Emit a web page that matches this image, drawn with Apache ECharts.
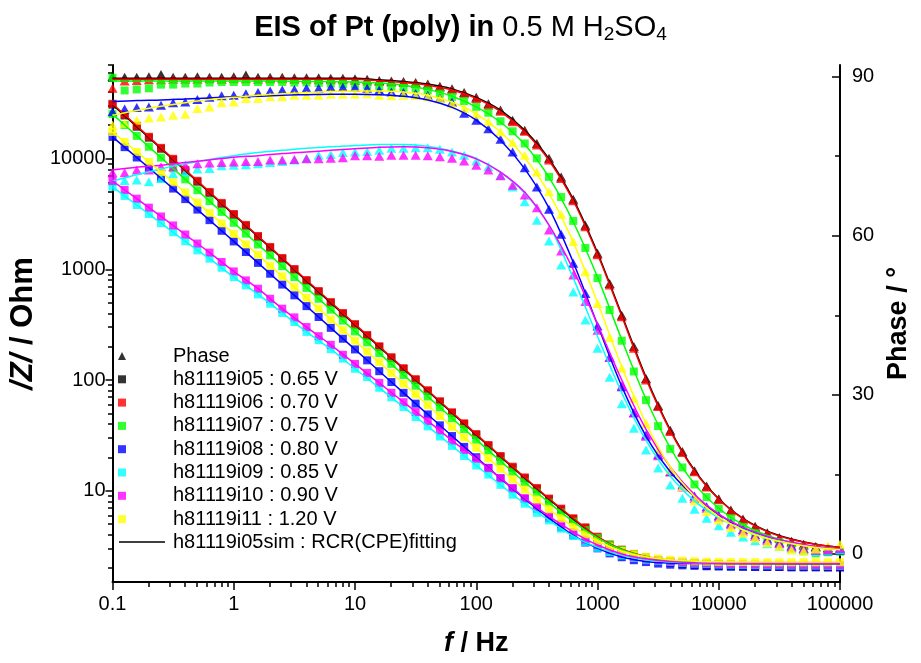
<!DOCTYPE html>
<html>
<head>
<meta charset="utf-8">
<script src="https://cdn.jsdelivr.net/npm/echarts@6/dist/echarts.min.js"></script>
<style>
  html, body { margin: 0; padding: 0; background: #ffffff; }
  #chart { width: 921px; height: 663px; }
</style>
</head>
<body>
<div id="chart"></div>
<script>
// Measured frequencies (Hz), 10 points per decade
const freq = [0.1, 0.1259, 0.1585, 0.1995, 0.2512, 0.3162, 0.3981, 0.5012, 0.631, 0.7943,
  1, 1.259, 1.585, 1.995, 2.512, 3.162, 3.981, 5.012, 6.31, 7.943,
  10, 12.59, 15.85, 19.95, 25.12, 31.62, 39.81, 50.12, 63.1, 79.43,
  100, 125.9, 158.5, 199.5, 251.2, 316.2, 398.1, 501.2, 631, 794.3,
  1000, 1259, 1585, 1995, 2512, 3162, 3981, 5012, 6310, 7943,
  10000, 12589, 15849, 19953, 25119, 31623, 39811, 50119, 63096, 79433, 100000];

// Frequencies of the simulated (fitted) spectra
const fitFreq = [0.1, 0.1585, 0.2512, 0.3981, 0.631, 1, 1.585, 2.512, 3.981, 6.31,
  10, 15.85, 25.12, 39.81, 63.1, 100, 158.5, 251.2, 398.1, 631,
  1000, 1585, 2512, 3981, 6310, 10000, 15849, 25119, 39811, 63096, 100000];

// |Z| in Ohm
const zI05 = [30700, 24500, 19400, 15450, 12280, 9770, 7770, 6190, 4910, 3910,
  3110, 2475, 1966, 1565, 1244, 990, 787, 626, 498, 396,
  315, 251, 199, 158, 126, 100, 79.6, 63.4, 50.4, 40.1,
  32.0, 25.5, 20.3, 16.2, 13.0, 10.4, 8.38, 6.79, 5.55, 4.6,
  3.78, 3.2, 2.88, 2.63, 2.46, 2.33, 2.23, 2.17, 2.13, 2.1,
  2.09, 2.08, 2.07, 2.06, 2.05, 2.05, 2.04, 2.04, 2.04, 2.03, 2.03];
const zI06 = [31260, 24890, 19770, 15740, 12500, 9950, 7910, 6300, 5000, 3980,
  3160, 2518, 2000, 1592, 1265, 1007, 800, 637, 506, 403,
  320, 255, 202, 161, 128, 102, 80.9, 64.4, 51.2, 40.7,
  32.5, 25.9, 20.6, 16.5, 13.2, 10.6, 8.51, 6.9, 5.65, 4.68,
  3.85, 3.27, 2.94, 2.69, 2.51, 2.38, 2.28, 2.22, 2.18, 2.15,
  2.14, 2.13, 2.12, 2.11, 2.1, 2.1, 2.09, 2.09, 2.08, 2.08, 2.08];
const zI07 = [25200, 20090, 16030, 12790, 10210, 8150, 6490, 5180, 4130, 3300,
  2630, 2100, 1675, 1337, 1067, 851, 679, 542, 432, 344,
  275, 219, 175, 140, 111, 88.9, 71.0, 56.6, 45.2, 36.1,
  28.95, 23.1, 18.5, 14.86, 11.95, 9.63, 7.81, 6.38, 5.26, 4.41,
  3.75, 3.27, 2.92, 2.66, 2.49, 2.37, 2.29, 2.23, 2.2, 2.17,
  2.16, 2.15, 2.14, 2.13, 2.13, 2.12, 2.12, 2.12, 2.12, 2.11, 2.11];
const zI08 = [15700, 12680, 10230, 8260, 6650, 5360, 4306, 3459, 2780, 2228,
  1786, 1432, 1143, 912, 728, 582, 465, 371, 296, 236,
  189, 150.7, 120.2, 95.9, 76.6, 61.2, 48.9, 39.0, 31.2, 24.9,
  20.09, 16.1, 12.94, 10.42, 8.43, 6.88, 5.65, 4.69, 3.96, 3.41,
  3.02, 2.72, 2.51, 2.36, 2.27, 2.2, 2.15, 2.12, 2.1, 2.08,
  2.07, 2.06, 2.06, 2.05, 2.05, 2.05, 2.04, 2.04, 2.04, 2.04, 2.04];
const zI09 = [5560, 4600, 3810, 3155, 2612, 2163, 1791, 1483, 1247, 1033,
  851, 716, 593, 489, 403, 334, 272, 229, 190, 156,
  126.5, 106.4, 85.1, 69.7, 57.0, 46.3, 38.1, 30.9, 25.4, 20.6,
  16.9, 14.0, 11.3, 9.2, 7.64, 6.32, 5.4, 4.54, 3.9, 3.44,
  3.05, 2.79, 2.61, 2.47, 2.38, 2.32, 2.27, 2.23, 2.2, 2.18,
  2.16, 2.15, 2.14, 2.13, 2.12, 2.12, 2.11, 2.11, 2.11, 2.1, 2.1];
const zI10 = [6280, 5220, 4345, 3606, 3000, 2489, 2061, 1710, 1416, 1164,
  957, 794, 668, 542, 441, 368, 301, 249, 208, 169,
  140, 116, 94.4, 76.7, 63.1, 51.4, 42.7, 35.1, 28.4, 23.4,
  19.5, 16.0, 13.0, 10.6, 8.59, 7.13, 5.89, 5.01, 4.24, 3.63,
  3.24, 2.93, 2.69, 2.52, 2.43, 2.36, 2.3, 2.26, 2.23, 2.21,
  2.19, 2.18, 2.17, 2.16, 2.15, 2.15, 2.14, 2.14, 2.14, 2.13, 2.13];
const zI11 = [17380, 14130, 11480, 9310, 7550, 6110, 4940, 4000, 3230, 2600,
  2089, 1679, 1349, 1079, 863, 690, 552, 442, 353, 282.5,
  226, 180.7, 144.5, 115.6, 92.5, 74.0, 59.2, 47.3, 37.8, 30.3,
  24.4, 19.6, 15.76, 12.7, 10.27, 8.35, 6.83, 5.65, 4.74, 4.04,
  3.51, 3.13, 2.86, 2.67, 2.53, 2.44, 2.38, 2.34, 2.31, 2.29,
  2.28, 2.27, 2.27, 2.27, 2.26, 2.26, 2.26, 2.26, 2.26, 2.26, 2.26];

// Phase in degrees
const phI05 = [90.1, 89.9, 89.9, 90.0, 90.4, 89.9, 89.9, 90.0, 89.9, 89.9,
  90.0, 90.3, 89.9, 89.9, 89.9, 89.8, 89.8, 89.8, 89.7, 89.7,
  89.6, 89.5, 89.3, 89.2, 89.1, 88.9, 88.6, 88.2, 87.7, 87.0,
  86.1, 84.9, 83.7, 81.8, 79.9, 77.4, 74.6, 71.1, 66.9, 62.0,
  56.7, 51.0, 45.0, 39.1, 33.1, 28.0, 23.3, 19.3, 15.7, 12.8,
  10.4, 8.3, 6.6, 5.2, 4.0, 3.1, 2.4, 1.8, 1.4, 1.2, 1.1];
const phI06 = [87.8, 89.2, 89.3, 89.4, 89.4, 89.5, 89.5, 89.5, 89.6, 89.5,
  89.6, 89.6, 89.5, 89.6, 89.6, 89.5, 89.5, 89.4, 89.4, 89.4,
  89.3, 89.2, 89.1, 89.0, 88.9, 88.7, 88.4, 88.0, 87.5, 86.8,
  85.9, 84.6, 83.5, 81.5, 79.7, 77.1, 74.3, 70.8, 66.6, 61.7,
  56.4, 50.7, 44.7, 38.8, 32.8, 27.8, 23.1, 19.1, 15.5, 12.6,
  10.2, 8.1, 6.4, 5.0, 3.8, 2.9, 2.2, 1.6, 1.2, 1.0, 0.8];
const phI07 = [89.8, 87.4, 87.6, 87.8, 88.5, 88.5, 88.7, 88.7, 88.9, 89.0,
  89.0, 89.0, 89.0, 89.0, 89.0, 88.9, 88.9, 88.8, 88.7, 88.6,
  88.5, 88.4, 88.2, 88.1, 87.9, 87.8, 87.4, 86.8, 86.2, 85.4,
  84.3, 83.2, 81.6, 79.7, 77.4, 74.6, 71.1, 67.3, 62.8, 57.7,
  52.0, 46.0, 40.2, 34.4, 29.0, 24.1, 19.8, 16.3, 13.1, 10.7,
  8.5, 6.7, 5.1, 3.9, 2.8, 2.2, 1.1, 0.5, 0.1, 0.3, 0.4];
const phI08 = [83.4, 83.9, 84.2, 84.3, 84.6, 85.1, 85.2, 85.7, 86.1, 86.4,
  86.5, 86.8, 87.0, 87.3, 87.5, 87.6, 87.8, 87.8, 88.0, 88.0,
  88.0, 87.8, 87.5, 87.1, 87.0, 86.8, 86.5, 86.0, 85.2, 83.1,
  81.8, 80.2, 78.2, 75.8, 72.8, 69.2, 65.0, 60.3, 54.8, 49.1,
  43.0, 37.1, 31.5, 26.6, 22.4, 18.7, 15.5, 13.0, 10.9, 8.9,
  7.2, 5.8, 4.6, 3.6, 2.8, 2.1, 1.5, 1.0, 0.7, 0.6, 0.7];
const phI09 = [70.3, 70.4, 70.5, 70.2, 70.8, 71.7, 72.0, 72.6, 72.7, 73.2,
  73.3, 73.4, 73.6, 73.8, 74.0, 74.3, 74.6, 75.2, 75.3, 75.7,
  75.8, 75.9, 76.1, 76.5, 76.5, 76.6, 76.6, 76.3, 75.8, 75.2,
  74.1, 73.0, 71.4, 69.2, 66.4, 62.9, 59.0, 54.5, 49.4, 44.1,
  38.8, 33.3, 28.3, 23.7, 19.6, 16.2, 13.0, 10.5, 8.4, 6.7,
  5.3, 4.1, 3.2, 2.5, 1.9, 1.4, 1.0, 0.7, 0.5, 0.6, 0.8];
const phI10 = [71.9, 71.9, 72.4, 72.4, 73.0, 73.0, 73.3, 73.6, 73.7, 73.8,
  73.9, 74.0, 74.0, 74.3, 74.3, 74.4, 74.5, 74.5, 74.6, 74.7,
  75.1, 75.1, 75.0, 75.2, 75.2, 75.2, 75.1, 74.9, 74.6, 74.1,
  73.3, 72.4, 71.3, 69.5, 67.7, 65.3, 61.1, 57.1, 52.6, 47.6,
  42.2, 37.1, 31.7, 26.6, 22.2, 18.5, 15.5, 12.6, 10.5, 8.6,
  6.9, 5.5, 4.3, 3.3, 2.5, 1.9, 1.3, 0.9, 0.7, 0.8, 1.0];
const phI11 = [80.9, 81.2, 81.8, 82.2, 82.4, 82.7, 82.9, 84.0, 84.3, 85.1,
  85.2, 85.9, 85.9, 86.2, 86.2, 86.5, 86.5, 86.5, 86.7, 86.7,
  86.7, 86.8, 86.5, 86.4, 86.5, 86.4, 86.2, 85.9, 84.8, 84.0,
  82.9, 81.5, 79.6, 77.6, 75.2, 72.0, 68.3, 64.0, 58.9, 53.2,
  47.2, 40.8, 35.0, 29.3, 24.6, 19.6, 15.8, 12.7, 10.0, 8.0,
  6.4, 5.0, 3.9, 3.0, 2.1, 1.4, 0.75, 0.5, 0.9, 1.5, 1.8];

// Simulated |Z| (RCR with CPE), Ohm
const zFitI05 = [30700, 19400, 12280, 7770, 4910, 3110, 1966, 1244, 787, 498,
  315, 199, 126, 79.6, 50.4, 32.0, 20.3, 13.0, 8.38, 5.55,
  3.8, 2.93, 2.53, 2.35, 2.26, 2.22, 2.2, 2.2, 2.19, 2.19, 2.19];
const zFitI06 = [31260, 19770, 12500, 7910, 5000, 3160, 2000, 1265, 800, 506,
  320, 202, 128, 80.9, 51.2, 32.5, 20.6, 13.2, 8.51, 5.65,
  3.85, 2.96, 2.55, 2.36, 2.27, 2.23, 2.21, 2.2, 2.2, 2.2, 2.2];
const zFitI07 = [25200, 16030, 10210, 6490, 4130, 2630, 1675, 1067, 679, 432,
  275, 175, 111, 71.0, 45.2, 28.95, 18.5, 11.95, 7.81, 5.26,
  3.75, 2.93, 2.52, 2.33, 2.25, 2.22, 2.21, 2.2, 2.2, 2.2, 2.2];
const zFitI08 = [15700, 10230, 6650, 4306, 2780, 1786, 1143, 728, 465, 296,
  189, 120.2, 76.6, 48.9, 31.2, 20.09, 12.94, 8.43, 5.65, 3.96,
  3.02, 2.52, 2.3, 2.22, 2.2, 2.2, 2.2, 2.2, 2.2, 2.2, 2.2];
const zFitI09 = [5560, 3810, 2612, 1791, 1247, 851, 593, 403, 272, 190,
  126.5, 85.1, 57.0, 38.1, 25.4, 16.9, 11.3, 7.64, 5.4, 3.9,
  3.08, 2.62, 2.38, 2.27, 2.23, 2.21, 2.2, 2.2, 2.2, 2.2, 2.2];
const zFitI10 = [6280, 4345, 3000, 2061, 1416, 957, 668, 441, 301, 208,
  140, 94.4, 63.1, 42.7, 28.4, 19.5, 13.0, 8.59, 5.89, 4.24,
  3.24, 2.69, 2.43, 2.3, 2.24, 2.21, 2.2, 2.2, 2.2, 2.2, 2.2];
const zFitI11 = [17380, 11480, 7550, 4940, 3230, 2089, 1349, 863, 552, 353,
  226, 144.5, 92.5, 59.2, 37.8, 24.4, 15.76, 10.27, 6.83, 4.74,
  3.51, 2.86, 2.53, 2.38, 2.31, 2.28, 2.27, 2.27, 2.27, 2.27, 2.27];

// Simulated phase, degrees
const phFitI05 = [89.7, 89.7, 89.7, 89.7, 89.7, 89.7, 89.7, 89.7, 89.7, 89.7,
  89.7, 89.4, 89.1, 88.6, 87.7, 86.1, 83.7, 79.9, 74.5, 66.9,
  56.8, 45.1, 33.3, 23.4, 15.8, 10.4, 6.7, 4.3, 2.8, 1.8, 1.2];
const phFitI06 = [89.5, 89.5, 89.5, 89.5, 89.5, 89.5, 89.5, 89.5, 89.5, 89.5,
  89.5, 89.2, 88.9, 88.4, 87.5, 85.9, 83.4, 79.6, 74.2, 66.6,
  56.5, 44.8, 33.0, 23.2, 15.6, 10.3, 6.6, 4.2, 2.7, 1.8, 1.2];
const phFitI07 = [89.2, 89.2, 89.2, 89.2, 89.2, 89.2, 89.2, 89.2, 89.1, 89.1,
  89.0, 88.8, 88.4, 87.6, 86.3, 84.3, 81.4, 77.2, 71.0, 62.6,
  52.2, 40.4, 29.2, 20.0, 13.2, 8.6, 5.5, 3.5, 2.2, 1.4, 0.9];
const phFitI08 = [85.3, 85.5, 85.6, 85.8, 86.0, 86.2, 86.3, 86.5, 86.6, 86.7,
  86.7, 86.6, 86.3, 85.6, 84.2, 81.8, 78.0, 72.6, 65.2, 55.0,
  43.2, 31.6, 22.2, 15.5, 10.8, 7.4, 4.9, 3.2, 2.1, 1.3, 0.9];
const phFitI09 = [70.3, 71.5, 72.6, 73.6, 74.4, 75.1, 75.7, 76.1, 76.5, 76.8,
  77.0, 77.2, 77.2, 76.9, 76.0, 74.6, 72.0, 68.0, 62.0, 52.0,
  41.0, 30.4, 21.4, 14.7, 10.0, 6.8, 4.6, 3.0, 2.0, 1.3, 0.9];
const phFitI10 = [72.4, 72.9, 73.3, 73.8, 74.3, 74.8, 75.1, 75.5, 75.8, 76.1,
  76.4, 76.7, 76.8, 76.6, 75.9, 74.5, 72.0, 68.2, 62.0, 53.6,
  43.3, 32.8, 23.5, 16.4, 11.2, 7.5, 5.0, 3.3, 2.2, 1.4, 0.9];
const phFitI11 = [82.7, 83.6, 84.4, 85.1, 85.7, 86.1, 86.5, 86.8, 87.0, 87.2,
  87.3, 87.3, 87.1, 86.5, 85.2, 83.0, 79.6, 74.7, 68.0, 58.8,
  47.4, 35.3, 24.6, 16.4, 10.8, 7.0, 4.5, 2.9, 1.9, 1.2, 0.8];

// Run labels and colours
const runNames = ['h81119i05 : 0.65 V', 'h81119i06 : 0.70 V', 'h81119i07 : 0.75 V',
  'h81119i08 : 0.80 V', 'h81119i09 : 0.85 V', 'h81119i10 : 0.90 V', 'h81119i11 : 1.20 V'];
const runColors = ['#000000', '#ff0000', '#00ff00', '#0000ff', '#00ffff', '#ff00ff', '#ffff00'];
const phaseLabel = 'Phase';
const fitLabel = 'h81119i05sim : RCR(CPE)fitting';

// Axis ticks
const xMajor = [0.1, 1, 10, 100, 1000, 10000, 100000];
const xMinor = [0.2, 0.3, 0.4, 0.5, 0.6, 0.7, 0.8, 0.9, 2, 3, 4, 5, 6, 7, 8, 9,
  20, 30, 40, 50, 60, 70, 80, 90, 200, 300, 400, 500, 600, 700, 800, 900,
  2000, 3000, 4000, 5000, 6000, 7000, 8000, 9000, 20000, 30000, 40000, 50000, 60000, 70000, 80000, 90000];
const zMajor = [10, 100, 1000, 10000];
const zMinor = [2, 3, 4, 5, 6, 7, 8, 9, 20, 30, 40, 50, 60, 70, 80, 90,
  200, 300, 400, 500, 600, 700, 800, 900, 2000, 3000, 4000, 5000, 6000, 7000, 8000, 9000,
  20000, 30000, 40000, 50000, 60000, 70000];
const phMajor = [0, 30, 60, 90];
const phMinor = [15, 45, 75];

const FONT = '"Liberation Sans", Arial, Helvetica, sans-serif';

const zData = [zI05, zI06, zI07, zI08, zI09, zI10, zI11];
const phData = [phI05, phI06, phI07, phI08, phI09, phI10, phI11];
const zFits = [zFitI05, zFitI06, zFitI07, zFitI08, zFitI09, zFitI10, zFitI11];
const phFits = [phFitI05, phFitI06, phFitI07, phFitI08, phFitI09, phFitI10, phFitI11];
const phSymbols = ['triangle', 'triangle', 'rect', 'triangle', 'triangle', 'triangle', 'triangle'];

const pair = (xs, ys) => xs.map((x, i) => [x, ys[i]]);

const series = [];
// measured points: |Z| squares on the left axis, phase markers on the right axis
runNames.forEach((name, k) => {
  series.push({
    name: name, type: 'scatter', xAxisIndex: 0, yAxisIndex: 0,
    symbol: 'rect', symbolSize: 8, z: 2,
    itemStyle: { color: runColors[k] },
    data: pair(freq, zData[k])
  });
  series.push({
    name: k === 0 ? phaseLabel : name, type: 'scatter', xAxisIndex: 0, yAxisIndex: 1,
    symbol: phSymbols[k], symbolSize: phSymbols[k] === 'rect' ? 8 : [10, 9], z: 2,
    itemStyle: { color: runColors[k] },
    data: pair(freq, phData[k])
  });
});
// simulated spectra drawn on top
runNames.forEach((name, k) => {
  const fitName = k === 0 ? fitLabel : name.split(' ')[0] + 'sim';
  const common = {
    name: fitName, type: 'line', xAxisIndex: 0, symbol: 'none', showSymbol: false,
    smooth: 0.3, z: 3,
    lineStyle: { color: runColors[k], width: 1.5 }, itemStyle: { color: runColors[k] }
  };
  series.push(Object.assign({}, common, { yAxisIndex: 0, data: pair(fitFreq, zFits[k]) }));
  series.push(Object.assign({}, common, { yAxisIndex: 1, data: pair(fitFreq, phFits[k]) }));
});

const numFmt = v => String(Number(Number(v).toPrecision(6)));
const gridBox = { left: 112, right: 81, top: 65, bottom: 81 };
const axisCol = '#000000';

const option = {
  animation: false,
  backgroundColor: '#ffffff',
  title: {
    left: 'center', top: 7,
    text: '{b|EIS of Pt (poly) in }{n|0.5 M H}{s|2}{n|SO}{s|4}',
    textStyle: {
      rich: {
        b: { fontFamily: FONT, fontWeight: 'bold', fontSize: 29, color: '#000' },
        n: { fontFamily: FONT, fontWeight: 'normal', fontSize: 29, color: '#000' },
        s: { fontFamily: FONT, fontWeight: 'normal', fontSize: 19, color: '#000', padding: [13, 0, 0, 0] }
      }
    }
  },
  grid: [Object.assign({}, gridBox), Object.assign({}, gridBox)],
  legend: [
    {
      orient: 'vertical', left: 118, top: 346, padding: 0,
      itemWidth: 8, itemHeight: 8, itemGap: 3.3,
      selectedMode: false,
      data: [{ name: phaseLabel, icon: 'triangle' }].concat(runNames.map(n => ({ name: n, icon: 'rect' }))),
      formatter: n => '{g| }' + n,
      textStyle: {
        fontFamily: FONT, fontSize: 20, lineHeight: 20, color: '#000',
        rich: { g: { width: 42 } }
      }
    },
    {
      orient: 'vertical', left: 119, top: 532, padding: 0,
      itemWidth: 46, itemHeight: 1.5,
      selectedMode: false,
      data: [{ name: fitLabel, icon: 'rect' }],
      formatter: n => '{g| }' + n,
      textStyle: {
        fontFamily: FONT, fontSize: 20, lineHeight: 20, color: '#000',
        rich: { g: { width: 3 } }
      }
    }
  ],
  xAxis: [
    {
      type: 'log', logBase: 10, gridIndex: 0, position: 'bottom', min: 0.1, max: 100000,
      axisLine: { show: true, onZero: false, lineStyle: { color: axisCol, width: 2 } },
      axisTick: { show: true, inside: false, length: 8, customValues: xMajor, lineStyle: { color: axisCol, width: 1.5 } },
      axisLabel: { show: true, customValues: xMajor, formatter: numFmt, margin: 12, color: '#000', fontFamily: FONT, fontSize: 20 },
      splitLine: { show: false },
      name: '{i|f}{b| / Hz}', nameLocation: 'middle', nameGap: 48,
      nameTextStyle: {
        rich: {
          i: { fontFamily: FONT, fontWeight: 'bold', fontStyle: 'italic', fontSize: 27, color: '#000' },
          b: { fontFamily: FONT, fontWeight: 'bold', fontSize: 27, color: '#000' }
        }
      }
    },
    {
      type: 'log', logBase: 10, gridIndex: 1, position: 'bottom', min: 0.1, max: 100000,
      axisLine: { show: false, onZero: false },
      axisTick: { show: true, inside: false, length: 5, customValues: xMinor, lineStyle: { color: axisCol, width: 1.5 } },
      axisLabel: { show: false },
      splitLine: { show: false }
    }
  ],
  yAxis: [
    {
      type: 'log', logBase: 10, gridIndex: 0, position: 'left', min: 1.5, max: 70000,
      axisLine: { show: true, onZero: false, lineStyle: { color: axisCol, width: 2 } },
      axisTick: { show: true, inside: false, length: 7, customValues: zMajor, lineStyle: { color: axisCol, width: 1.5 } },
      axisLabel: { show: true, customValues: zMajor, formatter: numFmt, margin: 7, color: '#000', fontFamily: FONT, fontSize: 20 },
      splitLine: { show: false },
      name: '{i|/Z/}{b| / Ohm}', nameLocation: 'middle', nameGap: 50, nameRotate: 90,
      nameTextStyle: {
        rich: {
          i: { fontFamily: FONT, fontWeight: 'bold', fontStyle: 'italic', fontSize: 31, color: '#000' },
          b: { fontFamily: FONT, fontWeight: 'bold', fontSize: 31, color: '#000' }
        }
      }
    },
    {
      type: 'value', gridIndex: 0, position: 'right', min: -5.3, max: 92.2,
      axisLine: { show: true, onZero: false, lineStyle: { color: axisCol, width: 2 } },
      axisTick: { show: true, inside: true, length: 8, customValues: phMajor, lineStyle: { color: axisCol, width: 1.5 } },
      axisLabel: { show: true, customValues: phMajor, margin: 12, color: '#000', fontFamily: FONT, fontSize: 20 },
      splitLine: { show: false },
      name: 'Phase / °', nameLocation: 'middle', nameGap: 40, nameRotate: 90,
      nameTextStyle: { fontFamily: FONT, fontWeight: 'bold', fontSize: 27, color: '#000' }
    },
    {
      type: 'log', logBase: 10, gridIndex: 1, position: 'left', min: 1.5, max: 70000,
      axisLine: { show: false, onZero: false },
      axisTick: { show: true, inside: false, length: 4, customValues: zMinor, lineStyle: { color: axisCol, width: 1.5 } },
      axisLabel: { show: false },
      splitLine: { show: false }
    },
    {
      type: 'value', gridIndex: 1, position: 'right', min: -5.3, max: 92.2,
      axisLine: { show: false, onZero: false },
      axisTick: { show: true, inside: true, length: 5, customValues: phMinor, lineStyle: { color: axisCol, width: 1.5 } },
      axisLabel: { show: false },
      splitLine: { show: false }
    }
  ],
  series: series
};

const chart = echarts.init(document.getElementById('chart'), null, { renderer: 'canvas' });
chart.setOption(option);
</script>
</body>
</html>
